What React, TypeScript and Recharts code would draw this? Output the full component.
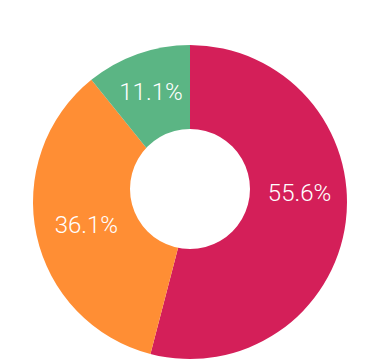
import React from "react";
import { PieChart, Pie, Cell } from "recharts";

const categories = ["A", "B", "C"];
const values = [20, 13, 4];
const labels = ["55.6%", "36.1%", "11.1%"];
const colors = ["#D41F59", "#FF8E34", "#5BB584"];

const data = categories.map((name, i) => ({ name, value: values[i], label: labels[i] }));
const hole = [{ name: "hole", value: 1 }];

const LABEL_STYLE = [
  { r: 110, da: 12.5 },
  { r: 106, da: 0 },
  { r: 117, da: 0 },
];

const RAD = Math.PI / 180;

const renderLabel = (props: any) => {
  const { cx, cy, midAngle, index } = props;
  const s = LABEL_STYLE[index];
  const a = (midAngle + s.da) * RAD;
  const x = cx + s.r * Math.cos(-a);
  const y = cy + s.r * Math.sin(-a);
  return (
    <text
      x={x}
      y={y + 8.5}
      fill="#ffffff"
      textAnchor="middle"
      fontFamily="Roboto, 'Open Sans', sans-serif"
      fontWeight={300}
      fontSize={24}
    >
      {data[index].label}
    </text>
  );
};

export default function App() {
  return (
    <div style={{ position: "absolute", left: 0, top: 0, width: 380, height: 360, background: "#fff" }}>
      <PieChart width={380} height={360} margin={{ top: 0, right: 0, bottom: 0, left: 0 }}>
        <Pie
          data={data}
          dataKey="value"
          cx={190}
          cy={202}
          innerRadius={0}
          outerRadius={157}
          startAngle={90}
          endAngle={-270}
          stroke="none"
          labelLine={false}
          label={renderLabel}
          isAnimationActive={false}
        >
          {data.map((d, i) => (
            <Cell key={d.name} fill={colors[i]} />
          ))}
        </Pie>
        <Pie
          data={hole}
          dataKey="value"
          cx={190}
          cy={189}
          innerRadius={0}
          outerRadius={60}
          stroke="none"
          fill="#ffffff"
          isAnimationActive={false}
        />
      </PieChart>
    </div>
  );
}
